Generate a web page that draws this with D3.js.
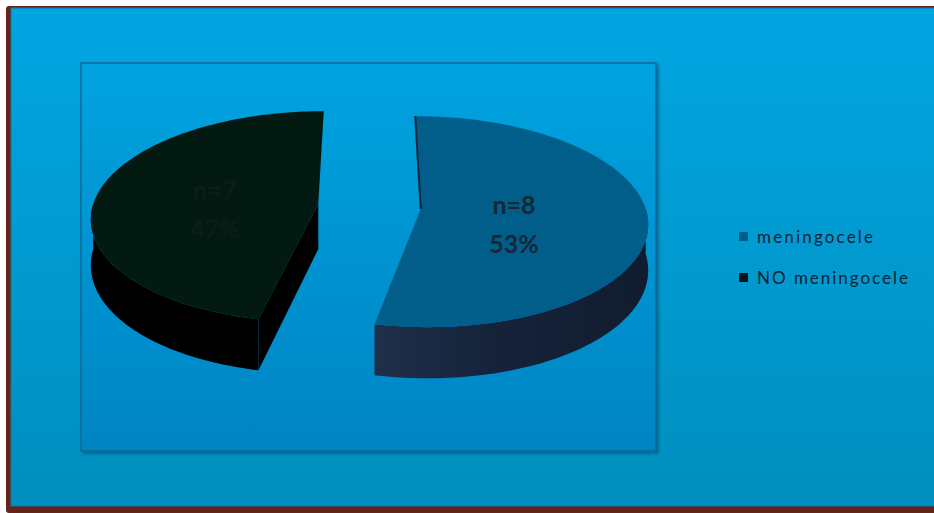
<!DOCTYPE html>
<html lang="en">
<head>
    <meta charset="UTF-8">
    <title>Meningocele 3D pie</title>
    <style>
        body { margin: 0; background: #fff; }
        .slice-label { font-family: Lato, "Open Sans", sans-serif; font-weight: bold; font-size: 25px; text-anchor: middle; }
        .legend text { font-family: Lato, "Open Sans", sans-serif; font-size: 17px; fill: #0b2232; }
    </style>
</head>
<body>
    <svg width="934" height="513"></svg>
    <script src="https://d3js.org/d3.v7.min.js"></script>
    <script>
        // data
        const categories = ["meningocele", "NO meningocele"];
        const counts = [8, 7];
        const topColors = ["#015e8a", "#021a11"];
        const labelColors = ["#172734", "#0e1c1c"];

        const svg = d3.select("svg");
        const defs = svg.append("defs");

        function vGrad(id, c0, c1) {
            const g = defs.append("linearGradient").attr("id", id)
                .attr("x1", 0).attr("y1", 0).attr("x2", 0).attr("y2", 1);
            g.append("stop").attr("offset", "0%").attr("stop-color", c0);
            g.append("stop").attr("offset", "100%").attr("stop-color", c1);
        }
        vGrad("bgGrad", "#02a5e2", "#008fbe");
        vGrad("plotGrad", "#02a3df", "#0084c3");

        const wg = defs.append("linearGradient").attr("id", "wallGrad")
            .attr("x1", 0).attr("y1", 0).attr("x2", 1).attr("y2", 0);
        wg.append("stop").attr("offset", "0%").attr("stop-color", "#1f2f4a");
        wg.append("stop").attr("offset", "45%").attr("stop-color", "#15223a");
        wg.append("stop").attr("offset", "100%").attr("stop-color", "#111c2e");

        const shadow = defs.append("filter").attr("id", "shadow")
            .attr("x", "-5%").attr("y", "-5%").attr("width", "110%").attr("height", "110%");
        shadow.append("feDropShadow").attr("dx", 2).attr("dy", 2)
            .attr("stdDeviation", 1.5).attr("flood-color", "#004a70").attr("flood-opacity", 0.6);

        // frame
        svg.append("rect").attr("x", 6).attr("y", 6).attr("width", 940).attr("height", 507)
            .attr("rx", 3).attr("fill", "#65231a");
        svg.append("rect").attr("x", 11).attr("y", 8).attr("width", 930).attr("height", 498)
            .attr("fill", "url(#bgGrad)").attr("stroke", "#0b78a6").attr("stroke-width", 1);

        // plot area
        svg.append("rect").attr("x", 81).attr("y", 63).attr("width", 575).attr("height", 388)
            .attr("fill", "url(#plotGrad)").attr("stroke", "#0b6a94").attr("stroke-width", 1.5)
            .attr("filter", "url(#shadow)");

        // 3D pie geometry (simple perspective: nearer points drawn bigger)
        const cx = 369.5, cy = 206.5, rx = 225, ry = 104, depth = 45, explode = 51.5, persp = 0.12;
        const total = d3.sum(counts);
        const pie = d3.pie().sort(null).startAngle(0).endAngle(2 * Math.PI);
        const arcs = pie(counts);
        const pct = d3.format(".0%");

        function pt(c, a, r, z) {
            const X = c[0] + rx * r * Math.sin(a);
            const u = -r * Math.cos(a);          // +1 = front edge, -1 = back edge
            const k = 1 / (1 - persp * u);
            return [cx + k * (X - cx), c[1] + k * (ry * u + (z || 0))];
        }
        function arcPts(c, a0, a1, z) {
            const n = Math.max(2, Math.ceil(Math.abs(a1 - a0) / 0.02));
            return d3.range(n + 1).map(i => pt(c, a0 + (a1 - a0) * i / n, 1, z));
        }
        const line = d3.line();

        const pieG = svg.append("g");

        arcs.forEach((d, i) => {
            const mid = (d.startAngle + d.endAngle) / 2;
            const c = [cx + explode * Math.sin(mid), cy - explode * Math.cos(mid) * ry / rx];
            const g = pieG.append("g");
            const o = pt(c, 0, 0), ob = pt(c, 0, 0, depth);

            // radial walls that face the viewer
            [[d.startAngle, d.startAngle - Math.PI / 2], [d.endAngle, d.endAngle + Math.PI / 2]]
                .forEach(([a, na]) => {
                    if (Math.cos(na) < -0.01) {
                        g.append("path")
                            .attr("d", line([o, pt(c, a, 1), pt(c, a, 1, depth), ob]) + "Z")
                            .attr("fill", i === 0 ? "#14203a" : "#000");
                    }
                });

            // outer wall, front half only
            const a0 = Math.max(d.startAngle, Math.PI / 2);
            const a1 = Math.min(d.endAngle, 3 * Math.PI / 2);
            if (a1 > a0) {
                const pts = arcPts(c, a0, a1).concat(arcPts(c, a1, a0, depth));
                g.append("path").attr("d", line(pts) + "Z")
                    .attr("fill", i === 0 ? "url(#wallGrad)" : "#000");
            }

            // top face
            const top = [o].concat(arcPts(c, d.startAngle, d.endAngle));
            g.append("path").attr("d", line(top) + "Z")
                .attr("fill", topColors[i]);
            if (i === 0) {
                g.append("path").attr("d", line([pt(c, 0, 1), o]))
                    .attr("stroke", "#17243a").attr("stroke-width", 2).attr("fill", "none");
            }

            // labels
            const lp = pt(c, mid, 0.44);
            g.append("text").attr("class", "slice-label")
                .attr("x", lp[0] - 6).attr("y", lp[1] + 0)
                .attr("fill", labelColors[i])
                .text("n=" + d.data);
            g.append("text").attr("class", "slice-label")
                .attr("x", lp[0] - 6).attr("y", lp[1] + 39)
                .attr("fill", labelColors[i])
                .text(pct(d.data / total));
        });

        // legend
        const legend = svg.append("g").attr("class", "legend");
        const ly = d3.scalePoint().domain(categories).range([238, 279]);
        categories.forEach((name, i) => {
            legend.append("rect").attr("x", 739).attr("y", ly(name) - 6)
                .attr("width", 9).attr("height", 9).attr("fill", topColors[i]);
            legend.append("text").attr("x", 757).attr("y", ly(name) + 5)
                .attr("textLength", i === 0 ? 116 : 151)
                .attr("lengthAdjust", "spacing")
                .text(name);
        });
    </script>
</body>
</html>
